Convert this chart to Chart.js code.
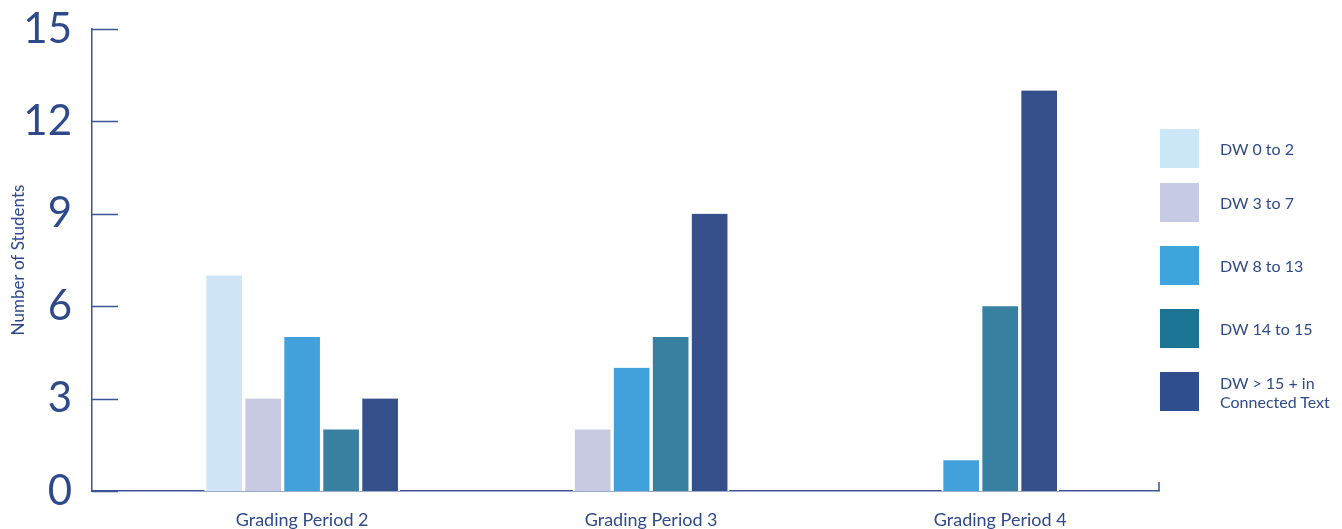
<!DOCTYPE html>
<html>
<head>
<meta charset="utf-8">
<script src="https://cdn.jsdelivr.net/npm/chart.js@4"></script>
<style>
  html, body { margin: 0; padding: 0; background: #ffffff; }
  #wrap { position: relative; width: 1342px; height: 529px; overflow: hidden; }
  #c { position: absolute; left: 0; top: 0; }
  #legend { position: absolute; left: 0; top: 0; width: 0; height: 0; }
  .lg-item { position: absolute; left: 1160px; display: flex; align-items: center; }
  .lg-box { width: 39px; height: 39px; flex: none; }
  .lg-text { margin-left: 21px; font-family: Lato, "Open Sans", sans-serif; font-size: 16px; line-height: 19px; color: #2f4a8b; white-space: nowrap; }
</style>
</head>
<body>
<div id="wrap">
  <canvas id="c" width="1342" height="529"></canvas>
  <div id="legend"></div>
</div>
<script>
// ---- data ----
const categories = ['Grading Period 2', 'Grading Period 3', 'Grading Period 4'];
const seriesLabels = ['DW 0 to 2', 'DW 3 to 7', 'DW 8 to 13', 'DW 14 to 15', 'DW > 15 + in\nConnected Text'];
const dw0to2   = [7, null, null];
const dw3to7   = [3, 2, null];
const dw8to13  = [5, 4, 1];
const dw14to15 = [2, 5, 6];
const dwOver15 = [3, 9, 13];
const yTicks = [0, 3, 6, 9, 12, 15];

// ---- styles ----
const barColors    = ['#cfe5f7', '#c8cae3', '#42a1da', '#38809f', '#354f8b'];
const legendColors = ['#cce7f8', '#c7cae5', '#3da5db', '#1c7495', '#2f4e8d'];
const inkColor = '#2f4a8b';
const axisColor = '#3a5596';
const fontFamily = 'Lato, "Open Sans", sans-serif';

const seriesValues = [dw0to2, dw3to7, dw8to13, dw14to15, dwOver15];

const datasets = seriesValues.map((vals, s) => ({
  label: seriesLabels[s],
  data: vals.map((v, i) => ({ x: i + 1, y: v })),
  backgroundColor: barColors[s],
  borderColor: '#ffffff',
  borderWidth: { top: 0, bottom: 0, left: 2, right: 2 },
  borderSkipped: false,
  barThickness: 39,
  skipNull: true
}));

const innerTicks = {
  id: 'innerTicks',
  afterDraw(chart) {
    const ctx = chart.ctx;
    const y = chart.scales.y;
    const area = chart.chartArea;
    ctx.save();
    ctx.strokeStyle = axisColor;
    ctx.lineWidth = 1.5;
    ctx.beginPath();
    y.ticks.forEach(t => {
      const py = Math.round(y.getPixelForValue(t.value)) + 0.5;
      ctx.moveTo(area.left, py);
      ctx.lineTo(area.left + 26, py);
    });
    ctx.moveTo(area.right, area.bottom);
    ctx.lineTo(area.right, area.bottom - 9);
    ctx.stroke();
    ctx.restore();
  }
};

const chart = new Chart(document.getElementById('c'), {
  type: 'bar',
  data: { datasets },
  plugins: [innerTicks],
  options: {
    responsive: false,
    animation: false,
    layout: { padding: { top: 29, right: 183, left: 0, bottom: 0 } },
    plugins: { legend: { display: false }, tooltip: { enabled: false } },
    scales: {
      x: {
        type: 'linear',
        offset: false,
        min: 0.398,
        max: 3.455,
        grid: { display: false, drawTicks: false, offset: false },
        border: { display: true, color: axisColor, width: 1.5 },
        afterBuildTicks: s => { s.ticks = categories.map((c, i) => ({ value: i + 1 })); },
        afterFit: s => { s.height = 38; },
        ticks: {
          autoSkip: false,
          maxRotation: 0,
          padding: 18,
          color: inkColor,
          font: { family: fontFamily, size: 18 },
          callback: v => categories[Math.round(v) - 1]
        }
      },
      y: {
        min: 0,
        max: 15,
        afterBuildTicks: s => { s.ticks = yTicks.map(v => ({ value: v })); },
        afterFit: s => { s.width = 92; s.paddingTop = 0; s.paddingBottom = 0; },
        grid: { display: false, drawTicks: false },
        border: { display: true, color: axisColor, width: 1.5 },
        ticks: {
          padding: 20,
          color: inkColor,
          font: { family: fontFamily, size: 42 }
        },
        title: {
          display: true,
          text: 'Number of Students',
          color: inkColor,
          font: { family: fontFamily, size: 17 },
          padding: { top: 8, bottom: 0 }
        }
      }
    }
  }
});

// ---- legend (HTML) ----
const legendTops = [129, 183, 246, 309, 372];
const legend = document.getElementById('legend');
seriesLabels.forEach((lab, s) => {
  const item = document.createElement('div');
  item.className = 'lg-item';
  item.style.top = legendTops[s] + 'px';
  const box = document.createElement('div');
  box.className = 'lg-box';
  box.style.background = legendColors[s];
  const txt = document.createElement('div');
  txt.className = 'lg-text';
  lab.split('\n').forEach((line, k) => {
    if (k) txt.appendChild(document.createElement('br'));
    txt.appendChild(document.createTextNode(line));
  });
  item.appendChild(box);
  item.appendChild(txt);
  legend.appendChild(item);
});
</script>
</body>
</html>
